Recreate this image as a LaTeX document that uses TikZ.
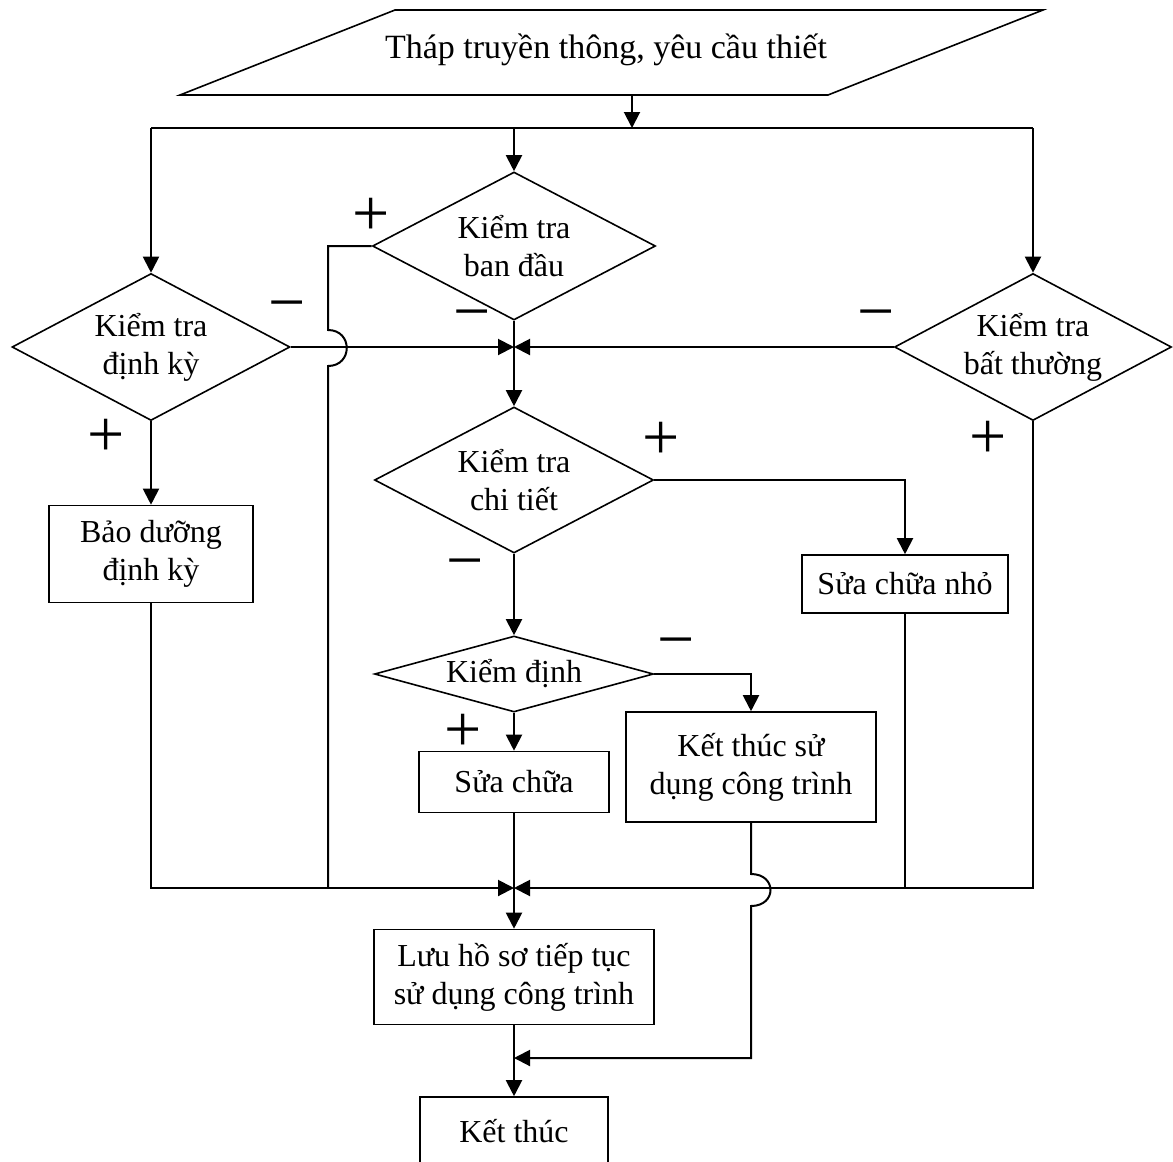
\documentclass[tikz,border=0pt]{standalone}
\usepackage{fontspec}
\setmainfont{Liberation Serif}
\usetikzlibrary{shapes.geometric, arrows.meta}
\tikzset{>={Triangle[length=8pt, width=8pt]}}
\tikzset{
  khoi/.style={draw, line width=0.8pt, align=center, inner sep=0pt},
  hop/.style={khoi, rectangle},
  thoi/.style={khoi, diamond, shape aspect=1.9},
  dau/.style={font=\fontsize{33}{33}\selectfont, inner sep=0pt}
}

\begin{document}
\begin{tikzpicture}[x=0.5pt, y=-0.5pt, font=\fontsize{16}{19}\selectfont, line width=1pt]
    \useasboundingbox (0,0) rectangle (1173,1162);
    \draw[line width=0.8pt] (180,95) -- (395,10) -- (1043,10) -- (828,95) -- cycle;
    \node (in) [font=\fontsize{17}{20}\selectfont] at (606,50) {Tháp truyền thông, yêu cầu thiết};
    \node (ban) [thoi, minimum width=141.5pt, minimum height=74pt] at (514,246) {Kiểm tra\\ban đầu};
    \node (dk) [thoi, minimum width=139pt, minimum height=73.5pt] at (151,347) {Kiểm tra\\định kỳ};
    \node (bt) [thoi, minimum width=138.5pt, minimum height=73.5pt] at (1033,347) {Kiểm tra\\bất thường};
    \node (ct) [thoi, minimum width=139.5pt, minimum height=73pt] at (514,480) {Kiểm tra\\chi tiết};
    \node (kd) [thoi, shape aspect=3.67, minimum width=139.5pt, minimum height=38pt] at (514,674) {Kiểm định};
    \node (bd) [hop, minimum width=102pt, minimum height=48.5pt] at (151,554) {Bảo dưỡng\\định kỳ};
    \node (scn) [hop, minimum width=103pt, minimum height=29pt] at (905,584) {Sửa chữa nhỏ};
    \node (kt) [hop, minimum width=125pt, minimum height=55pt] at (751,767) {Kết thúc sử\\dụng công trình};
    \node (sc) [hop, minimum width=95pt, minimum height=30.5pt] at (514,782) {Sửa chữa};
    \node (lhs) [hop, minimum width=140pt, minimum height=47.5pt] at (514,977) {Lưu hồ sơ tiếp tục\\sử dụng công trình};
    \node (end) [hop, minimum width=94pt, minimum height=34pt] at (514,1131) {Kết thúc};

    \node [dau] at (371,217) {+};
    \node [dau] at (106,438) {+};
    \node [dau] at (988,440) {+};
    \node [dau] at (661,441) {+};
    \node [dau] at (463,733) {+};
    \node [dau] at (287,313) {−};
    \node [dau] at (472,322) {−};
    \node [dau] at (876,322) {−};
    \node [dau] at (465,571) {−};
    \node [dau] at (676,650) {−};

    \coordinate (p) at (632,95);
    \coordinate (a) at (632,128);
    \coordinate (c) at (514,888);
    \coordinate (g) at (514,1058);
    \draw[->] (p) -- (a);
    \draw (dk.north |- a) -- (bt.north |- a);
    \draw[->] (dk.north |- a) -- (dk.north);
    \draw[->] (ban.north |- a) -- (ban.north);
    \draw[->] (bt.north |- a) -- (bt.north);
    \draw[->] (ban.south) -- (ct.north);
    \draw[->] (dk.east) -- (dk.east -| ban.south);
    \draw[->] (bt.west) -- (bt.west -| ban.south);
    \draw (ban.west) -| (328,330) .. controls (353,330) and (353,366) .. (328,366) -- (328,888);
    \draw[->] (dk.south) -- (bd.north);
    \draw[->] (bd.south) -- (bd.south |- c) -- (c);
    \draw[->] (ct.east) -| (scn.north);
    \draw (scn.south) -- (scn.south |- c);
    \draw[->] (bt.south) -- (bt.south |- c) -- (c);
    \draw[->] (ct.south) -- (kd.north);
    \draw[->] (kd.east) -| (kt.north);
    \draw[->] (kd.south) -- (sc.north);
    \draw[->] (sc.south) -- (lhs.north);
    \draw[->] (kt.south) -- (751,874) .. controls (777,874) and (777,906) .. (751,906) -- (751,1058) -- (g);
    \draw[->] (lhs.south) -- (end.north);
\end{tikzpicture}
\end{document}
